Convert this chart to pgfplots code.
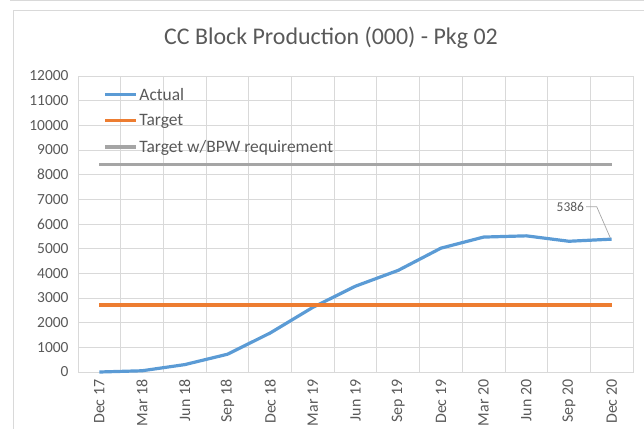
\documentclass[border=0pt]{standalone}
\usepackage{pgfplots}
\pgfplotsset{compat=1.18}
\usepackage{fontspec}
\setmainfont{Carlito}
\definecolor{cActual}{HTML}{5B9BD5}
\definecolor{cTarget}{HTML}{ED7D31}
\definecolor{cBPW}{HTML}{A5A5A5}
\definecolor{cGridL}{HTML}{D9D9D9}
\definecolor{cTick}{HTML}{595959}
\definecolor{cTitle}{HTML}{595959}

\begin{document}
\begin{tikzpicture}[x=1bp,y=1bp]
\useasboundingbox (0,0) rectangle (644,428);
% chart frame
\draw[cGridL,line width=0.8bp] (13,-5) -- (13,418) -- (650,418);
\draw[cGridL,line width=0.8bp] (10,428) -- (650,428);
\node[font=\fontsize{24}{28}\selectfont,text=cTitle] at (331,390) {CC Block Production (000) - Pkg 02};
\begin{axis}[
  at={(78bp,56bp)},anchor=south west,
  scale only axis,width=555bp,height=296bp,
  xmin=-0.5,xmax=12.5,ymin=0,ymax=12000,
  xtick={0,...,12},
  xticklabels={Dec 17,Mar 18,Jun 18,Sep 18,Dec 18,Mar 19,Jun 19,Sep 19,Dec 19,Mar 20,Jun 20,Sep 20,Dec 20},
  minor xtick={-0.5,0.5,...,12.5},
  xminorgrids=true,
  ytick={0,1000,...,12000},
  ymajorgrids=true,
  grid style={cGridL,line width=0.8bp},
  minor grid style={cGridL,line width=0.8bp},
  axis line style={cGridL,line width=0.8bp},
  major tick length=0pt,minor tick length=0pt,
  x tick label style={rotate=90,anchor=east,font=\fontsize{16}{18}\selectfont,text=cTick},
  y tick label style={font=\fontsize{15.5}{18}\selectfont,text=cTick},
  xticklabel shift=4bp,yticklabel shift=6bp,
  scaled y ticks=false,
  yticklabel style={/pgf/number format/.cd,fixed,use comma=false,1000 sep={},assume math mode=true},
  legend style={at={(0.046,0.967)},anchor=north west,draw=none,fill=none,
    font=\fontsize{17.5}{20}\selectfont,text=cTick,row sep=9bp,
    inner sep=0pt,nodes={inner xsep=1.5bp}},
  legend cell align=left,
  clip=false,
]
\addplot[cActual,line width=3.2bp,line join=round,
  legend image code/.code={\draw[cActual,line width=3.2bp] (0bp,0bp) -- (31bp,0bp);}] coordinates {
(0,0) (1,50) (2,300) (3,720) (4,1580) (5,2620) (6,3480) (7,4120) (8,5020) (9,5470) (10,5520) (11,5300) (12,5386)};
\addlegendentry{Actual}
\addplot[cTarget,line width=3.2bp,
  legend image code/.code={\draw[cTarget,line width=3.2bp] (0bp,0bp) -- (31bp,0bp);}] coordinates {(0,2720) (12,2720)};
\addlegendentry{Target}
\addplot[cBPW,line width=3.2bp,
  legend image code/.code={\draw[cBPW,line width=3.2bp] (0bp,0bp) -- (31bp,0bp);}] coordinates {(0,8400) (12,8400)};
\addlegendentry{Target w/BPW requirement}
\draw[cBPW,line width=0.7bp] (axis cs:11.4,6700) -- (axis cs:11.65,6700) -- (axis cs:11.97,5430);
\node[anchor=east,inner sep=1bp,font=\fontsize{13.5}{15}\selectfont,text=cTick] at (axis cs:11.38,6700) {5386};
\end{axis}
\end{tikzpicture}
\end{document}
